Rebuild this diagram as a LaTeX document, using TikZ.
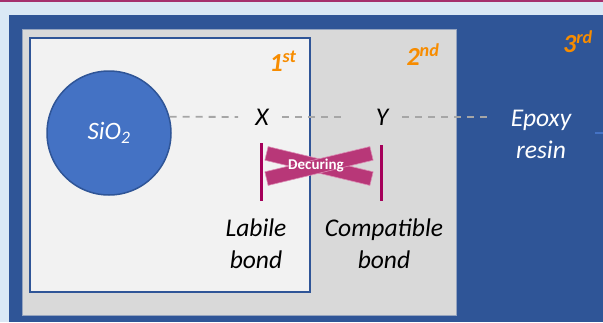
\documentclass[tikz,border=0pt]{standalone}
\usepackage{fontspec}
\setmainfont{Carlito}
\definecolor{bgblue}{RGB}{218,232,245}
\definecolor{topmag}{RGB}{165,48,110}
\definecolor{darkblue}{RGB}{47,85,151}
\definecolor{midblue}{RGB}{68,114,196}
\definecolor{graybox}{RGB}{217,217,217}
\definecolor{whitebox}{RGB}{242,242,242}
\definecolor{orangelbl}{RGB}{247,140,0}
\definecolor{dashgray}{RGB}{166,166,166}
\definecolor{barmag}{RGB}{165,0,90}
\definecolor{crossfill}{RGB}{184,55,120}
\definecolor{crossedge}{RGB}{220,140,180}
\begin{document}
\begin{tikzpicture}[x=1pt,y=-1pt,
  txt/.style={font=\fontsize{25.5}{32}\selectfont\itshape, inner sep=0pt, align=center},
  ordlbl/.style={font=\fontsize{26}{28}\selectfont\bfseries\itshape, text=orangelbl, inner sep=0pt},
  dashline/.style={draw=dashgray, line width=1.8pt, dash pattern=on 7pt off 6pt},
  vbar/.style={draw=barmag, line width=3pt},
  crossbar/.style={fill=crossfill, draw=crossedge, line width=0.6pt, rectangle, minimum width=108pt, minimum height=14pt, inner sep=0pt}
]
\useasboundingbox (0,0) rectangle (603,322);
\fill[bgblue] (0,0) rectangle (603,322);
\fill[topmag] (0,0) rectangle (603,1.5);
\fill[darkblue] (9,15) rectangle (603,322);
\filldraw[fill=graybox, draw=darkblue!40!graybox, line width=0.6pt] (22,29) rectangle (456,315);
\filldraw[fill=whitebox, draw=darkblue, line width=2pt] (30,37.5) rectangle (310,291.5);
\node[circle, minimum size=124pt, inner sep=0pt, fill=midblue, draw=darkblue, line width=1.5pt, text=white, font=\fontsize{25}{28}\selectfont\itshape] (sio2) at (109,133) {SiO\textsubscript{2}};
\node[ordlbl] (first) at (283,61) {1\textsuperscript{st}};
\node[ordlbl] (second) at (423,55) {2\textsuperscript{nd}};
\node[ordlbl] (third) at (578,42) {3\textsuperscript{rd}};
\node[txt] (X) at (262,117) {X};
\node[txt] (Y) at (382,117) {Y};
\node[txt, text=white] (epoxy) at (541,134) {Epoxy\\resin};
\coordinate (dashend) at (488,117);
\coordinate (rightend) at (603,133);
\coordinate (rightstart) at (595,133);
\draw[dashline, shorten >=24pt] (sio2.15) -- (X.center);
\draw[dashline, shorten <=20pt, shorten >=35pt] (X.center) -- (Y.center);
\draw[dashline, shorten <=20pt] (Y.center) -- (dashend);
\draw[midblue, line width=2pt] (rightstart) -- (rightend);
\node[txt] (labile) at (256,244) {Labile\\bond};
\node[txt] (compat) at (384,244) {Compatible\\bond};
\node[crossbar, rotate=-13.5] (cbarA) at (319,166) {};
\node[crossbar, rotate=13.5] (cbarB) at (319,166) {};
\node[text=white, font=\fontsize{15}{17}\selectfont\bfseries, inner sep=0pt] (decuring) at (316,166) {Decuring};
\coordinate (lbtop) at (261,143);
\coordinate (lbbot) at (261,201);
\coordinate (rbtop) at (381,145);
\coordinate (rbbot) at (381,201);
\draw[vbar] (lbtop) -- (lbbot);
\draw[vbar] (rbtop) -- (rbbot);
\end{tikzpicture}
\end{document}
